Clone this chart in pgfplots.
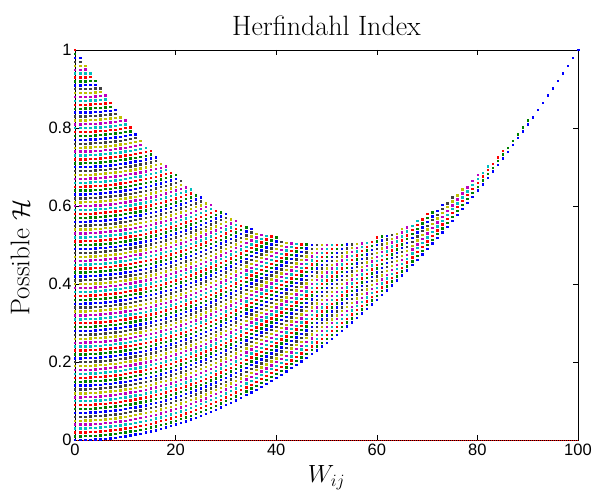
\documentclass[border=0pt]{standalone}
\usepackage{pgfplots}
\pgfplotsset{compat=1.18}
\usepackage{fontspec}
\newfontfamily\tickfont{Liberation Sans}

\definecolor{mB}{rgb}{0,0,1}
\definecolor{mG}{rgb}{0,0.5,0}
\definecolor{mR}{rgb}{1,0,0}
\definecolor{mC}{rgb}{0,0.75,0.75}
\definecolor{mM}{rgb}{0.75,0,0.75}
\definecolor{mY}{rgb}{0.75,0.75,0}
\definecolor{mK}{rgb}{0.25,0.25,0.25}

\pgfplotscreateplotcyclelist{lines7}{
 {mB,only marks,mark=square*,mark size=0.7pt,mark options={draw=none,fill=mB}},
 {mG,only marks,mark=square*,mark size=0.7pt,mark options={draw=none,fill=mG}},
 {mR,only marks,mark=square*,mark size=0.7pt,mark options={draw=none,fill=mR}},
 {mC,only marks,mark=square*,mark size=0.7pt,mark options={draw=none,fill=mC}},
 {mM,only marks,mark=square*,mark size=0.7pt,mark options={draw=none,fill=mM}},
 {mY,only marks,mark=square*,mark size=0.7pt,mark options={draw=none,fill=mY}},
 {mK,only marks,mark=square*,mark size=0.7pt,mark options={draw=none,fill=mK}}}

\begin{document}
\begin{tikzpicture}
\path[use as bounding box] (-75pt,-50pt) rectangle (517pt,440pt);
% H is stored in units of 1/10000; k-th series: W^2 + 100k, W = 0..100
\begin{axis}[
  at={(0,0)}, anchor=south west,
  scale only axis, width=503pt, height=390pt,
  xmin=0, xmax=100, ymin=0, ymax=10000,
  xtick={0,20,40,60,80,100},
  ytick={0,2000,4000,6000,8000,10000},
  yticklabels={0,0.2,0.4,0.6,0.8,1},
  scaled y ticks=false,
  tick align=inside, major tick length=5pt,
  tick style={black, line width=0.6pt},
  axis line style={black, line width=0.8pt},
  /pgf/number format/assume math mode=true,
  ticklabel style={font=\tickfont\fontsize{16.5}{19}\selectfont},
  title={Herfindahl Index},
  title style={font=\fontsize{28}{33}\selectfont, at={(axis description cs:0.5,1.022)}, anchor=base},
  xlabel={$W_{ij}$}, ylabel={Possible $\mathcal{H}$},
  xlabel style={font=\fontsize{25}{29}\selectfont, at={(axis description cs:0.5,-0.097)}, anchor=center},
  ylabel style={font=\fontsize{27}{31}\selectfont, at={(axis description cs:-0.109,0.468)}, anchor=center},
  clip=false,
  cycle list name=lines7,
]
\addplot coordinates {
(0,0)(1,1)(2,4)(3,9)(4,16)(5,25)(6,36)(7,49)(8,64)(9,81)
(10,100)(11,121)(12,144)(13,169)(14,196)(15,225)(16,256)(17,289)(18,324)(19,361)
(20,400)(21,441)(22,484)(23,529)(24,576)(25,625)(26,676)(27,729)(28,784)(29,841)
(30,900)(31,961)(32,1024)(33,1089)(34,1156)(35,1225)(36,1296)(37,1369)(38,1444)(39,1521)
(40,1600)(41,1681)(42,1764)(43,1849)(44,1936)(45,2025)(46,2116)(47,2209)(48,2304)(49,2401)
(50,2500)(51,2601)(52,2704)(53,2809)(54,2916)(55,3025)(56,3136)(57,3249)(58,3364)(59,3481)
(60,3600)(61,3721)(62,3844)(63,3969)(64,4096)(65,4225)(66,4356)(67,4489)(68,4624)(69,4761)
(70,4900)(71,5041)(72,5184)(73,5329)(74,5476)(75,5625)(76,5776)(77,5929)(78,6084)(79,6241)
(80,6400)(81,6561)(82,6724)(83,6889)(84,7056)(85,7225)(86,7396)(87,7569)(88,7744)(89,7921)
(90,8100)(91,8281)(92,8464)(93,8649)(94,8836)(95,9025)(96,9216)(97,9409)(98,9604)(99,9801)
(100,10000)};
\addplot coordinates {
(0,100)(1,101)(2,104)(3,109)(4,116)(5,125)(6,136)(7,149)(8,164)(9,181)
(10,200)(11,221)(12,244)(13,269)(14,296)(15,325)(16,356)(17,389)(18,424)(19,461)
(20,500)(21,541)(22,584)(23,629)(24,676)(25,725)(26,776)(27,829)(28,884)(29,941)
(30,1000)(31,1061)(32,1124)(33,1189)(34,1256)(35,1325)(36,1396)(37,1469)(38,1544)(39,1621)
(40,1700)(41,1781)(42,1864)(43,1949)(44,2036)(45,2125)(46,2216)(47,2309)(48,2404)(49,2501)
(50,2600)(51,2701)(52,2804)(53,2909)(54,3016)(55,3125)(56,3236)(57,3349)(58,3464)(59,3581)
(60,3700)(61,3821)(62,3944)(63,4069)(64,4196)(65,4325)(66,4456)(67,4589)(68,4724)(69,4861)
(70,5000)(71,5141)(72,5284)(73,5429)(74,5576)(75,5725)(76,5876)(77,6029)(78,6184)(79,6341)
(80,6500)(81,6661)(82,6824)(83,6989)(84,7156)(85,7325)(86,7496)(87,7669)(88,7844)(89,8021)
(90,8200)};
\addplot coordinates {
(0,200)(1,201)(2,204)(3,209)(4,216)(5,225)(6,236)(7,249)(8,264)(9,281)
(10,300)(11,321)(12,344)(13,369)(14,396)(15,425)(16,456)(17,489)(18,524)(19,561)
(20,600)(21,641)(22,684)(23,729)(24,776)(25,825)(26,876)(27,929)(28,984)(29,1041)
(30,1100)(31,1161)(32,1224)(33,1289)(34,1356)(35,1425)(36,1496)(37,1569)(38,1644)(39,1721)
(40,1800)(41,1881)(42,1964)(43,2049)(44,2136)(45,2225)(46,2316)(47,2409)(48,2504)(49,2601)
(50,2700)(51,2801)(52,2904)(53,3009)(54,3116)(55,3225)(56,3336)(57,3449)(58,3564)(59,3681)
(60,3800)(61,3921)(62,4044)(63,4169)(64,4296)(65,4425)(66,4556)(67,4689)(68,4824)(69,4961)
(70,5100)(71,5241)(72,5384)(73,5529)(74,5676)(75,5825)(76,5976)(77,6129)(78,6284)(79,6441)
(80,6600)(81,6761)(82,6924)(83,7089)(84,7256)(85,7425)};
\addplot coordinates {
(0,300)(1,301)(2,304)(3,309)(4,316)(5,325)(6,336)(7,349)(8,364)(9,381)
(10,400)(11,421)(12,444)(13,469)(14,496)(15,525)(16,556)(17,589)(18,624)(19,661)
(20,700)(21,741)(22,784)(23,829)(24,876)(25,925)(26,976)(27,1029)(28,1084)(29,1141)
(30,1200)(31,1261)(32,1324)(33,1389)(34,1456)(35,1525)(36,1596)(37,1669)(38,1744)(39,1821)
(40,1900)(41,1981)(42,2064)(43,2149)(44,2236)(45,2325)(46,2416)(47,2509)(48,2604)(49,2701)
(50,2800)(51,2901)(52,3004)(53,3109)(54,3216)(55,3325)(56,3436)(57,3549)(58,3664)(59,3781)
(60,3900)(61,4021)(62,4144)(63,4269)(64,4396)(65,4525)(66,4656)(67,4789)(68,4924)(69,5061)
(70,5200)(71,5341)(72,5484)(73,5629)(74,5776)(75,5925)(76,6076)(77,6229)(78,6384)(79,6541)
(80,6700)(81,6861)(82,7024)};
\addplot coordinates {
(0,400)(1,401)(2,404)(3,409)(4,416)(5,425)(6,436)(7,449)(8,464)(9,481)
(10,500)(11,521)(12,544)(13,569)(14,596)(15,625)(16,656)(17,689)(18,724)(19,761)
(20,800)(21,841)(22,884)(23,929)(24,976)(25,1025)(26,1076)(27,1129)(28,1184)(29,1241)
(30,1300)(31,1361)(32,1424)(33,1489)(34,1556)(35,1625)(36,1696)(37,1769)(38,1844)(39,1921)
(40,2000)(41,2081)(42,2164)(43,2249)(44,2336)(45,2425)(46,2516)(47,2609)(48,2704)(49,2801)
(50,2900)(51,3001)(52,3104)(53,3209)(54,3316)(55,3425)(56,3536)(57,3649)(58,3764)(59,3881)
(60,4000)(61,4121)(62,4244)(63,4369)(64,4496)(65,4625)(66,4756)(67,4889)(68,5024)(69,5161)
(70,5300)(71,5441)(72,5584)(73,5729)(74,5876)(75,6025)(76,6176)(77,6329)(78,6484)(79,6641)
(80,6800)};
\addplot coordinates {
(0,500)(1,501)(2,504)(3,509)(4,516)(5,525)(6,536)(7,549)(8,564)(9,581)
(10,600)(11,621)(12,644)(13,669)(14,696)(15,725)(16,756)(17,789)(18,824)(19,861)
(20,900)(21,941)(22,984)(23,1029)(24,1076)(25,1125)(26,1176)(27,1229)(28,1284)(29,1341)
(30,1400)(31,1461)(32,1524)(33,1589)(34,1656)(35,1725)(36,1796)(37,1869)(38,1944)(39,2021)
(40,2100)(41,2181)(42,2264)(43,2349)(44,2436)(45,2525)(46,2616)(47,2709)(48,2804)(49,2901)
(50,3000)(51,3101)(52,3204)(53,3309)(54,3416)(55,3525)(56,3636)(57,3749)(58,3864)(59,3981)
(60,4100)(61,4221)(62,4344)(63,4469)(64,4596)(65,4725)(66,4856)(67,4989)(68,5124)(69,5261)
(70,5400)(71,5541)(72,5684)(73,5829)(74,5976)(75,6125)(76,6276)(77,6429)};
\addplot coordinates {
(0,600)(1,601)(2,604)(3,609)(4,616)(5,625)(6,636)(7,649)(8,664)(9,681)
(10,700)(11,721)(12,744)(13,769)(14,796)(15,825)(16,856)(17,889)(18,924)(19,961)
(20,1000)(21,1041)(22,1084)(23,1129)(24,1176)(25,1225)(26,1276)(27,1329)(28,1384)(29,1441)
(30,1500)(31,1561)(32,1624)(33,1689)(34,1756)(35,1825)(36,1896)(37,1969)(38,2044)(39,2121)
(40,2200)(41,2281)(42,2364)(43,2449)(44,2536)(45,2625)(46,2716)(47,2809)(48,2904)(49,3001)
(50,3100)(51,3201)(52,3304)(53,3409)(54,3516)(55,3625)(56,3736)(57,3849)(58,3964)(59,4081)
(60,4200)(61,4321)(62,4444)(63,4569)(64,4696)(65,4825)(66,4956)(67,5089)(68,5224)(69,5361)
(70,5500)(71,5641)(72,5784)(73,5929)(74,6076)(75,6225)};
\addplot coordinates {
(0,700)(1,701)(2,704)(3,709)(4,716)(5,725)(6,736)(7,749)(8,764)(9,781)
(10,800)(11,821)(12,844)(13,869)(14,896)(15,925)(16,956)(17,989)(18,1024)(19,1061)
(20,1100)(21,1141)(22,1184)(23,1229)(24,1276)(25,1325)(26,1376)(27,1429)(28,1484)(29,1541)
(30,1600)(31,1661)(32,1724)(33,1789)(34,1856)(35,1925)(36,1996)(37,2069)(38,2144)(39,2221)
(40,2300)(41,2381)(42,2464)(43,2549)(44,2636)(45,2725)(46,2816)(47,2909)(48,3004)(49,3101)
(50,3200)(51,3301)(52,3404)(53,3509)(54,3616)(55,3725)(56,3836)(57,3949)(58,4064)(59,4181)
(60,4300)(61,4421)(62,4544)(63,4669)(64,4796)(65,4925)(66,5056)(67,5189)(68,5324)(69,5461)
(70,5600)(71,5741)(72,5884)(73,6029)};
\addplot coordinates {
(0,800)(1,801)(2,804)(3,809)(4,816)(5,825)(6,836)(7,849)(8,864)(9,881)
(10,900)(11,921)(12,944)(13,969)(14,996)(15,1025)(16,1056)(17,1089)(18,1124)(19,1161)
(20,1200)(21,1241)(22,1284)(23,1329)(24,1376)(25,1425)(26,1476)(27,1529)(28,1584)(29,1641)
(30,1700)(31,1761)(32,1824)(33,1889)(34,1956)(35,2025)(36,2096)(37,2169)(38,2244)(39,2321)
(40,2400)(41,2481)(42,2564)(43,2649)(44,2736)(45,2825)(46,2916)(47,3009)(48,3104)(49,3201)
(50,3300)(51,3401)(52,3504)(53,3609)(54,3716)(55,3825)(56,3936)(57,4049)(58,4164)(59,4281)
(60,4400)(61,4521)(62,4644)(63,4769)(64,4896)(65,5025)(66,5156)(67,5289)(68,5424)(69,5561)
(70,5700)(71,5841)};
\addplot coordinates {
(0,900)(1,901)(2,904)(3,909)(4,916)(5,925)(6,936)(7,949)(8,964)(9,981)
(10,1000)(11,1021)(12,1044)(13,1069)(14,1096)(15,1125)(16,1156)(17,1189)(18,1224)(19,1261)
(20,1300)(21,1341)(22,1384)(23,1429)(24,1476)(25,1525)(26,1576)(27,1629)(28,1684)(29,1741)
(30,1800)(31,1861)(32,1924)(33,1989)(34,2056)(35,2125)(36,2196)(37,2269)(38,2344)(39,2421)
(40,2500)(41,2581)(42,2664)(43,2749)(44,2836)(45,2925)(46,3016)(47,3109)(48,3204)(49,3301)
(50,3400)(51,3501)(52,3604)(53,3709)(54,3816)(55,3925)(56,4036)(57,4149)(58,4264)(59,4381)
(60,4500)(61,4621)(62,4744)(63,4869)(64,4996)(65,5125)(66,5256)(67,5389)(68,5524)(69,5661)
(70,5800)};
\addplot coordinates {
(0,1000)(1,1001)(2,1004)(3,1009)(4,1016)(5,1025)(6,1036)(7,1049)(8,1064)(9,1081)
(10,1100)(11,1121)(12,1144)(13,1169)(14,1196)(15,1225)(16,1256)(17,1289)(18,1324)(19,1361)
(20,1400)(21,1441)(22,1484)(23,1529)(24,1576)(25,1625)(26,1676)(27,1729)(28,1784)(29,1841)
(30,1900)(31,1961)(32,2024)(33,2089)(34,2156)(35,2225)(36,2296)(37,2369)(38,2444)(39,2521)
(40,2600)(41,2681)(42,2764)(43,2849)(44,2936)(45,3025)(46,3116)(47,3209)(48,3304)(49,3401)
(50,3500)(51,3601)(52,3704)(53,3809)(54,3916)(55,4025)(56,4136)(57,4249)(58,4364)(59,4481)
(60,4600)(61,4721)(62,4844)(63,4969)(64,5096)(65,5225)(66,5356)(67,5489)(68,5624)};
\addplot coordinates {
(0,1100)(1,1101)(2,1104)(3,1109)(4,1116)(5,1125)(6,1136)(7,1149)(8,1164)(9,1181)
(10,1200)(11,1221)(12,1244)(13,1269)(14,1296)(15,1325)(16,1356)(17,1389)(18,1424)(19,1461)
(20,1500)(21,1541)(22,1584)(23,1629)(24,1676)(25,1725)(26,1776)(27,1829)(28,1884)(29,1941)
(30,2000)(31,2061)(32,2124)(33,2189)(34,2256)(35,2325)(36,2396)(37,2469)(38,2544)(39,2621)
(40,2700)(41,2781)(42,2864)(43,2949)(44,3036)(45,3125)(46,3216)(47,3309)(48,3404)(49,3501)
(50,3600)(51,3701)(52,3804)(53,3909)(54,4016)(55,4125)(56,4236)(57,4349)(58,4464)(59,4581)
(60,4700)(61,4821)(62,4944)(63,5069)(64,5196)(65,5325)(66,5456)};
\addplot coordinates {
(0,1200)(1,1201)(2,1204)(3,1209)(4,1216)(5,1225)(6,1236)(7,1249)(8,1264)(9,1281)
(10,1300)(11,1321)(12,1344)(13,1369)(14,1396)(15,1425)(16,1456)(17,1489)(18,1524)(19,1561)
(20,1600)(21,1641)(22,1684)(23,1729)(24,1776)(25,1825)(26,1876)(27,1929)(28,1984)(29,2041)
(30,2100)(31,2161)(32,2224)(33,2289)(34,2356)(35,2425)(36,2496)(37,2569)(38,2644)(39,2721)
(40,2800)(41,2881)(42,2964)(43,3049)(44,3136)(45,3225)(46,3316)(47,3409)(48,3504)(49,3601)
(50,3700)(51,3801)(52,3904)(53,4009)(54,4116)(55,4225)(56,4336)(57,4449)(58,4564)(59,4681)
(60,4800)(61,4921)(62,5044)(63,5169)(64,5296)(65,5425)};
\addplot coordinates {
(0,1300)(1,1301)(2,1304)(3,1309)(4,1316)(5,1325)(6,1336)(7,1349)(8,1364)(9,1381)
(10,1400)(11,1421)(12,1444)(13,1469)(14,1496)(15,1525)(16,1556)(17,1589)(18,1624)(19,1661)
(20,1700)(21,1741)(22,1784)(23,1829)(24,1876)(25,1925)(26,1976)(27,2029)(28,2084)(29,2141)
(30,2200)(31,2261)(32,2324)(33,2389)(34,2456)(35,2525)(36,2596)(37,2669)(38,2744)(39,2821)
(40,2900)(41,2981)(42,3064)(43,3149)(44,3236)(45,3325)(46,3416)(47,3509)(48,3604)(49,3701)
(50,3800)(51,3901)(52,4004)(53,4109)(54,4216)(55,4325)(56,4436)(57,4549)(58,4664)(59,4781)
(60,4900)(61,5021)(62,5144)(63,5269)};
\addplot coordinates {
(0,1400)(1,1401)(2,1404)(3,1409)(4,1416)(5,1425)(6,1436)(7,1449)(8,1464)(9,1481)
(10,1500)(11,1521)(12,1544)(13,1569)(14,1596)(15,1625)(16,1656)(17,1689)(18,1724)(19,1761)
(20,1800)(21,1841)(22,1884)(23,1929)(24,1976)(25,2025)(26,2076)(27,2129)(28,2184)(29,2241)
(30,2300)(31,2361)(32,2424)(33,2489)(34,2556)(35,2625)(36,2696)(37,2769)(38,2844)(39,2921)
(40,3000)(41,3081)(42,3164)(43,3249)(44,3336)(45,3425)(46,3516)(47,3609)(48,3704)(49,3801)
(50,3900)(51,4001)(52,4104)(53,4209)(54,4316)(55,4425)(56,4536)(57,4649)(58,4764)(59,4881)
(60,5000)(61,5121)(62,5244)};
\addplot coordinates {
(0,1500)(1,1501)(2,1504)(3,1509)(4,1516)(5,1525)(6,1536)(7,1549)(8,1564)(9,1581)
(10,1600)(11,1621)(12,1644)(13,1669)(14,1696)(15,1725)(16,1756)(17,1789)(18,1824)(19,1861)
(20,1900)(21,1941)(22,1984)(23,2029)(24,2076)(25,2125)(26,2176)(27,2229)(28,2284)(29,2341)
(30,2400)(31,2461)(32,2524)(33,2589)(34,2656)(35,2725)(36,2796)(37,2869)(38,2944)(39,3021)
(40,3100)(41,3181)(42,3264)(43,3349)(44,3436)(45,3525)(46,3616)(47,3709)(48,3804)(49,3901)
(50,4000)(51,4101)(52,4204)(53,4309)(54,4416)(55,4525)(56,4636)(57,4749)(58,4864)(59,4981)
(60,5100)(61,5221)};
\addplot coordinates {
(0,1600)(1,1601)(2,1604)(3,1609)(4,1616)(5,1625)(6,1636)(7,1649)(8,1664)(9,1681)
(10,1700)(11,1721)(12,1744)(13,1769)(14,1796)(15,1825)(16,1856)(17,1889)(18,1924)(19,1961)
(20,2000)(21,2041)(22,2084)(23,2129)(24,2176)(25,2225)(26,2276)(27,2329)(28,2384)(29,2441)
(30,2500)(31,2561)(32,2624)(33,2689)(34,2756)(35,2825)(36,2896)(37,2969)(38,3044)(39,3121)
(40,3200)(41,3281)(42,3364)(43,3449)(44,3536)(45,3625)(46,3716)(47,3809)(48,3904)(49,4001)
(50,4100)(51,4201)(52,4304)(53,4409)(54,4516)(55,4625)(56,4736)(57,4849)(58,4964)(59,5081)
(60,5200)};
\addplot coordinates {
(0,1700)(1,1701)(2,1704)(3,1709)(4,1716)(5,1725)(6,1736)(7,1749)(8,1764)(9,1781)
(10,1800)(11,1821)(12,1844)(13,1869)(14,1896)(15,1925)(16,1956)(17,1989)(18,2024)(19,2061)
(20,2100)(21,2141)(22,2184)(23,2229)(24,2276)(25,2325)(26,2376)(27,2429)(28,2484)(29,2541)
(30,2600)(31,2661)(32,2724)(33,2789)(34,2856)(35,2925)(36,2996)(37,3069)(38,3144)(39,3221)
(40,3300)(41,3381)(42,3464)(43,3549)(44,3636)(45,3725)(46,3816)(47,3909)(48,4004)(49,4101)
(50,4200)(51,4301)(52,4404)(53,4509)(54,4616)(55,4725)(56,4836)(57,4949)(58,5064)};
\addplot coordinates {
(0,1800)(1,1801)(2,1804)(3,1809)(4,1816)(5,1825)(6,1836)(7,1849)(8,1864)(9,1881)
(10,1900)(11,1921)(12,1944)(13,1969)(14,1996)(15,2025)(16,2056)(17,2089)(18,2124)(19,2161)
(20,2200)(21,2241)(22,2284)(23,2329)(24,2376)(25,2425)(26,2476)(27,2529)(28,2584)(29,2641)
(30,2700)(31,2761)(32,2824)(33,2889)(34,2956)(35,3025)(36,3096)(37,3169)(38,3244)(39,3321)
(40,3400)(41,3481)(42,3564)(43,3649)(44,3736)(45,3825)(46,3916)(47,4009)(48,4104)(49,4201)
(50,4300)(51,4401)(52,4504)(53,4609)(54,4716)(55,4825)(56,4936)(57,5049)};
\addplot coordinates {
(0,1900)(1,1901)(2,1904)(3,1909)(4,1916)(5,1925)(6,1936)(7,1949)(8,1964)(9,1981)
(10,2000)(11,2021)(12,2044)(13,2069)(14,2096)(15,2125)(16,2156)(17,2189)(18,2224)(19,2261)
(20,2300)(21,2341)(22,2384)(23,2429)(24,2476)(25,2525)(26,2576)(27,2629)(28,2684)(29,2741)
(30,2800)(31,2861)(32,2924)(33,2989)(34,3056)(35,3125)(36,3196)(37,3269)(38,3344)(39,3421)
(40,3500)(41,3581)(42,3664)(43,3749)(44,3836)(45,3925)(46,4016)(47,4109)(48,4204)(49,4301)
(50,4400)(51,4501)(52,4604)(53,4709)(54,4816)(55,4925)(56,5036)};
\addplot coordinates {
(0,2000)(1,2001)(2,2004)(3,2009)(4,2016)(5,2025)(6,2036)(7,2049)(8,2064)(9,2081)
(10,2100)(11,2121)(12,2144)(13,2169)(14,2196)(15,2225)(16,2256)(17,2289)(18,2324)(19,2361)
(20,2400)(21,2441)(22,2484)(23,2529)(24,2576)(25,2625)(26,2676)(27,2729)(28,2784)(29,2841)
(30,2900)(31,2961)(32,3024)(33,3089)(34,3156)(35,3225)(36,3296)(37,3369)(38,3444)(39,3521)
(40,3600)(41,3681)(42,3764)(43,3849)(44,3936)(45,4025)(46,4116)(47,4209)(48,4304)(49,4401)
(50,4500)(51,4601)(52,4704)(53,4809)(54,4916)(55,5025)};
\addplot coordinates {
(0,2100)(1,2101)(2,2104)(3,2109)(4,2116)(5,2125)(6,2136)(7,2149)(8,2164)(9,2181)
(10,2200)(11,2221)(12,2244)(13,2269)(14,2296)(15,2325)(16,2356)(17,2389)(18,2424)(19,2461)
(20,2500)(21,2541)(22,2584)(23,2629)(24,2676)(25,2725)(26,2776)(27,2829)(28,2884)(29,2941)
(30,3000)(31,3061)(32,3124)(33,3189)(34,3256)(35,3325)(36,3396)(37,3469)(38,3544)(39,3621)
(40,3700)(41,3781)(42,3864)(43,3949)(44,4036)(45,4125)(46,4216)(47,4309)(48,4404)(49,4501)
(50,4600)(51,4701)(52,4804)(53,4909)(54,5016)};
\addplot coordinates {
(0,2200)(1,2201)(2,2204)(3,2209)(4,2216)(5,2225)(6,2236)(7,2249)(8,2264)(9,2281)
(10,2300)(11,2321)(12,2344)(13,2369)(14,2396)(15,2425)(16,2456)(17,2489)(18,2524)(19,2561)
(20,2600)(21,2641)(22,2684)(23,2729)(24,2776)(25,2825)(26,2876)(27,2929)(28,2984)(29,3041)
(30,3100)(31,3161)(32,3224)(33,3289)(34,3356)(35,3425)(36,3496)(37,3569)(38,3644)(39,3721)
(40,3800)(41,3881)(42,3964)(43,4049)(44,4136)(45,4225)(46,4316)(47,4409)(48,4504)(49,4601)
(50,4700)(51,4801)(52,4904)(53,5009)};
\addplot coordinates {
(0,2300)(1,2301)(2,2304)(3,2309)(4,2316)(5,2325)(6,2336)(7,2349)(8,2364)(9,2381)
(10,2400)(11,2421)(12,2444)(13,2469)(14,2496)(15,2525)(16,2556)(17,2589)(18,2624)(19,2661)
(20,2700)(21,2741)(22,2784)(23,2829)(24,2876)(25,2925)(26,2976)(27,3029)(28,3084)(29,3141)
(30,3200)(31,3261)(32,3324)(33,3389)(34,3456)(35,3525)(36,3596)(37,3669)(38,3744)(39,3821)
(40,3900)(41,3981)(42,4064)(43,4149)(44,4236)(45,4325)(46,4416)(47,4509)(48,4604)(49,4701)
(50,4800)(51,4901)(52,5004)};
\addplot coordinates {
(0,2400)(1,2401)(2,2404)(3,2409)(4,2416)(5,2425)(6,2436)(7,2449)(8,2464)(9,2481)
(10,2500)(11,2521)(12,2544)(13,2569)(14,2596)(15,2625)(16,2656)(17,2689)(18,2724)(19,2761)
(20,2800)(21,2841)(22,2884)(23,2929)(24,2976)(25,3025)(26,3076)(27,3129)(28,3184)(29,3241)
(30,3300)(31,3361)(32,3424)(33,3489)(34,3556)(35,3625)(36,3696)(37,3769)(38,3844)(39,3921)
(40,4000)(41,4081)(42,4164)(43,4249)(44,4336)(45,4425)(46,4516)(47,4609)(48,4704)(49,4801)
(50,4900)(51,5001)};
\addplot coordinates {
(0,2500)(1,2501)(2,2504)(3,2509)(4,2516)(5,2525)(6,2536)(7,2549)(8,2564)(9,2581)
(10,2600)(11,2621)(12,2644)(13,2669)(14,2696)(15,2725)(16,2756)(17,2789)(18,2824)(19,2861)
(20,2900)(21,2941)(22,2984)(23,3029)(24,3076)(25,3125)(26,3176)(27,3229)(28,3284)(29,3341)
(30,3400)(31,3461)(32,3524)(33,3589)(34,3656)(35,3725)(36,3796)(37,3869)(38,3944)(39,4021)
(40,4100)(41,4181)(42,4264)(43,4349)(44,4436)(45,4525)(46,4616)(47,4709)(48,4804)(49,4901)
(50,5000)};
\addplot coordinates {
(0,2600)(1,2601)(2,2604)(3,2609)(4,2616)(5,2625)(6,2636)(7,2649)(8,2664)(9,2681)
(10,2700)(11,2721)(12,2744)(13,2769)(14,2796)(15,2825)(16,2856)(17,2889)(18,2924)(19,2961)
(20,3000)(21,3041)(22,3084)(23,3129)(24,3176)(25,3225)(26,3276)(27,3329)(28,3384)(29,3441)
(30,3500)(31,3561)(32,3624)(33,3689)(34,3756)(35,3825)(36,3896)(37,3969)(38,4044)(39,4121)
(40,4200)(41,4281)(42,4364)(43,4449)(44,4536)(45,4625)(46,4716)(47,4809)(48,4904)(49,5001)};
\addplot coordinates {
(0,2700)(1,2701)(2,2704)(3,2709)(4,2716)(5,2725)(6,2736)(7,2749)(8,2764)(9,2781)
(10,2800)(11,2821)(12,2844)(13,2869)(14,2896)(15,2925)(16,2956)(17,2989)(18,3024)(19,3061)
(20,3100)(21,3141)(22,3184)(23,3229)(24,3276)(25,3325)(26,3376)(27,3429)(28,3484)(29,3541)
(30,3600)(31,3661)(32,3724)(33,3789)(34,3856)(35,3925)(36,3996)(37,4069)(38,4144)(39,4221)
(40,4300)(41,4381)(42,4464)(43,4549)(44,4636)(45,4725)(46,4816)(47,4909)(48,5004)};
\addplot coordinates {
(0,2800)(1,2801)(2,2804)(3,2809)(4,2816)(5,2825)(6,2836)(7,2849)(8,2864)(9,2881)
(10,2900)(11,2921)(12,2944)(13,2969)(14,2996)(15,3025)(16,3056)(17,3089)(18,3124)(19,3161)
(20,3200)(21,3241)(22,3284)(23,3329)(24,3376)(25,3425)(26,3476)(27,3529)(28,3584)(29,3641)
(30,3700)(31,3761)(32,3824)(33,3889)(34,3956)(35,4025)(36,4096)(37,4169)(38,4244)(39,4321)
(40,4400)(41,4481)(42,4564)(43,4649)(44,4736)(45,4825)(46,4916)(47,5009)};
\addplot coordinates {
(0,2900)(1,2901)(2,2904)(3,2909)(4,2916)(5,2925)(6,2936)(7,2949)(8,2964)(9,2981)
(10,3000)(11,3021)(12,3044)(13,3069)(14,3096)(15,3125)(16,3156)(17,3189)(18,3224)(19,3261)
(20,3300)(21,3341)(22,3384)(23,3429)(24,3476)(25,3525)(26,3576)(27,3629)(28,3684)(29,3741)
(30,3800)(31,3861)(32,3924)(33,3989)(34,4056)(35,4125)(36,4196)(37,4269)(38,4344)(39,4421)
(40,4500)(41,4581)(42,4664)(43,4749)(44,4836)(45,4925)(46,5016)};
\addplot coordinates {
(0,3000)(1,3001)(2,3004)(3,3009)(4,3016)(5,3025)(6,3036)(7,3049)(8,3064)(9,3081)
(10,3100)(11,3121)(12,3144)(13,3169)(14,3196)(15,3225)(16,3256)(17,3289)(18,3324)(19,3361)
(20,3400)(21,3441)(22,3484)(23,3529)(24,3576)(25,3625)(26,3676)(27,3729)(28,3784)(29,3841)
(30,3900)(31,3961)(32,4024)(33,4089)(34,4156)(35,4225)(36,4296)(37,4369)(38,4444)(39,4521)
(40,4600)(41,4681)(42,4764)(43,4849)(44,4936)(45,5025)};
\addplot coordinates {
(0,3100)(1,3101)(2,3104)(3,3109)(4,3116)(5,3125)(6,3136)(7,3149)(8,3164)(9,3181)
(10,3200)(11,3221)(12,3244)(13,3269)(14,3296)(15,3325)(16,3356)(17,3389)(18,3424)(19,3461)
(20,3500)(21,3541)(22,3584)(23,3629)(24,3676)(25,3725)(26,3776)(27,3829)(28,3884)(29,3941)
(30,4000)(31,4061)(32,4124)(33,4189)(34,4256)(35,4325)(36,4396)(37,4469)(38,4544)(39,4621)
(40,4700)(41,4781)(42,4864)(43,4949)(44,5036)};
\addplot coordinates {
(0,3200)(1,3201)(2,3204)(3,3209)(4,3216)(5,3225)(6,3236)(7,3249)(8,3264)(9,3281)
(10,3300)(11,3321)(12,3344)(13,3369)(14,3396)(15,3425)(16,3456)(17,3489)(18,3524)(19,3561)
(20,3600)(21,3641)(22,3684)(23,3729)(24,3776)(25,3825)(26,3876)(27,3929)(28,3984)(29,4041)
(30,4100)(31,4161)(32,4224)(33,4289)(34,4356)(35,4425)(36,4496)(37,4569)(38,4644)(39,4721)
(40,4800)(41,4881)(42,4964)(43,5049)};
\addplot coordinates {
(0,3300)(1,3301)(2,3304)(3,3309)(4,3316)(5,3325)(6,3336)(7,3349)(8,3364)(9,3381)
(10,3400)(11,3421)(12,3444)(13,3469)(14,3496)(15,3525)(16,3556)(17,3589)(18,3624)(19,3661)
(20,3700)(21,3741)(22,3784)(23,3829)(24,3876)(25,3925)(26,3976)(27,4029)(28,4084)(29,4141)
(30,4200)(31,4261)(32,4324)(33,4389)(34,4456)(35,4525)(36,4596)(37,4669)(38,4744)(39,4821)
(40,4900)(41,4981)(42,5064)};
\addplot coordinates {
(0,3400)(1,3401)(2,3404)(3,3409)(4,3416)(5,3425)(6,3436)(7,3449)(8,3464)(9,3481)
(10,3500)(11,3521)(12,3544)(13,3569)(14,3596)(15,3625)(16,3656)(17,3689)(18,3724)(19,3761)
(20,3800)(21,3841)(22,3884)(23,3929)(24,3976)(25,4025)(26,4076)(27,4129)(28,4184)(29,4241)
(30,4300)(31,4361)(32,4424)(33,4489)(34,4556)(35,4625)(36,4696)(37,4769)(38,4844)(39,4921)
(40,5000)(41,5081)};
\addplot coordinates {
(0,3500)(1,3501)(2,3504)(3,3509)(4,3516)(5,3525)(6,3536)(7,3549)(8,3564)(9,3581)
(10,3600)(11,3621)(12,3644)(13,3669)(14,3696)(15,3725)(16,3756)(17,3789)(18,3824)(19,3861)
(20,3900)(21,3941)(22,3984)(23,4029)(24,4076)(25,4125)(26,4176)(27,4229)(28,4284)(29,4341)
(30,4400)(31,4461)(32,4524)(33,4589)(34,4656)(35,4725)(36,4796)(37,4869)(38,4944)(39,5021)
(40,5100)};
\addplot coordinates {
(0,3600)(1,3601)(2,3604)(3,3609)(4,3616)(5,3625)(6,3636)(7,3649)(8,3664)(9,3681)
(10,3700)(11,3721)(12,3744)(13,3769)(14,3796)(15,3825)(16,3856)(17,3889)(18,3924)(19,3961)
(20,4000)(21,4041)(22,4084)(23,4129)(24,4176)(25,4225)(26,4276)(27,4329)(28,4384)(29,4441)
(30,4500)(31,4561)(32,4624)(33,4689)(34,4756)(35,4825)(36,4896)(37,4969)(38,5044)(39,5121)
(40,5200)};
\addplot coordinates {
(0,3700)(1,3701)(2,3704)(3,3709)(4,3716)(5,3725)(6,3736)(7,3749)(8,3764)(9,3781)
(10,3800)(11,3821)(12,3844)(13,3869)(14,3896)(15,3925)(16,3956)(17,3989)(18,4024)(19,4061)
(20,4100)(21,4141)(22,4184)(23,4229)(24,4276)(25,4325)(26,4376)(27,4429)(28,4484)(29,4541)
(30,4600)(31,4661)(32,4724)(33,4789)(34,4856)(35,4925)(36,4996)(37,5069)(38,5144)(39,5221)};
\addplot coordinates {
(0,3800)(1,3801)(2,3804)(3,3809)(4,3816)(5,3825)(6,3836)(7,3849)(8,3864)(9,3881)
(10,3900)(11,3921)(12,3944)(13,3969)(14,3996)(15,4025)(16,4056)(17,4089)(18,4124)(19,4161)
(20,4200)(21,4241)(22,4284)(23,4329)(24,4376)(25,4425)(26,4476)(27,4529)(28,4584)(29,4641)
(30,4700)(31,4761)(32,4824)(33,4889)(34,4956)(35,5025)(36,5096)(37,5169)(38,5244)};
\addplot coordinates {
(0,3900)(1,3901)(2,3904)(3,3909)(4,3916)(5,3925)(6,3936)(7,3949)(8,3964)(9,3981)
(10,4000)(11,4021)(12,4044)(13,4069)(14,4096)(15,4125)(16,4156)(17,4189)(18,4224)(19,4261)
(20,4300)(21,4341)(22,4384)(23,4429)(24,4476)(25,4525)(26,4576)(27,4629)(28,4684)(29,4741)
(30,4800)(31,4861)(32,4924)(33,4989)(34,5056)(35,5125)(36,5196)(37,5269)};
\addplot coordinates {
(0,4000)(1,4001)(2,4004)(3,4009)(4,4016)(5,4025)(6,4036)(7,4049)(8,4064)(9,4081)
(10,4100)(11,4121)(12,4144)(13,4169)(14,4196)(15,4225)(16,4256)(17,4289)(18,4324)(19,4361)
(20,4400)(21,4441)(22,4484)(23,4529)(24,4576)(25,4625)(26,4676)(27,4729)(28,4784)(29,4841)
(30,4900)(31,4961)(32,5024)(33,5089)(34,5156)(35,5225)(36,5296)};
\addplot coordinates {
(0,4100)(1,4101)(2,4104)(3,4109)(4,4116)(5,4125)(6,4136)(7,4149)(8,4164)(9,4181)
(10,4200)(11,4221)(12,4244)(13,4269)(14,4296)(15,4325)(16,4356)(17,4389)(18,4424)(19,4461)
(20,4500)(21,4541)(22,4584)(23,4629)(24,4676)(25,4725)(26,4776)(27,4829)(28,4884)(29,4941)
(30,5000)(31,5061)(32,5124)(33,5189)(34,5256)(35,5325)};
\addplot coordinates {
(0,4200)(1,4201)(2,4204)(3,4209)(4,4216)(5,4225)(6,4236)(7,4249)(8,4264)(9,4281)
(10,4300)(11,4321)(12,4344)(13,4369)(14,4396)(15,4425)(16,4456)(17,4489)(18,4524)(19,4561)
(20,4600)(21,4641)(22,4684)(23,4729)(24,4776)(25,4825)(26,4876)(27,4929)(28,4984)(29,5041)
(30,5100)(31,5161)(32,5224)(33,5289)(34,5356)(35,5425)};
\addplot coordinates {
(0,4300)(1,4301)(2,4304)(3,4309)(4,4316)(5,4325)(6,4336)(7,4349)(8,4364)(9,4381)
(10,4400)(11,4421)(12,4444)(13,4469)(14,4496)(15,4525)(16,4556)(17,4589)(18,4624)(19,4661)
(20,4700)(21,4741)(22,4784)(23,4829)(24,4876)(25,4925)(26,4976)(27,5029)(28,5084)(29,5141)
(30,5200)(31,5261)(32,5324)(33,5389)(34,5456)};
\addplot coordinates {
(0,4400)(1,4401)(2,4404)(3,4409)(4,4416)(5,4425)(6,4436)(7,4449)(8,4464)(9,4481)
(10,4500)(11,4521)(12,4544)(13,4569)(14,4596)(15,4625)(16,4656)(17,4689)(18,4724)(19,4761)
(20,4800)(21,4841)(22,4884)(23,4929)(24,4976)(25,5025)(26,5076)(27,5129)(28,5184)(29,5241)
(30,5300)(31,5361)(32,5424)(33,5489)};
\addplot coordinates {
(0,4500)(1,4501)(2,4504)(3,4509)(4,4516)(5,4525)(6,4536)(7,4549)(8,4564)(9,4581)
(10,4600)(11,4621)(12,4644)(13,4669)(14,4696)(15,4725)(16,4756)(17,4789)(18,4824)(19,4861)
(20,4900)(21,4941)(22,4984)(23,5029)(24,5076)(25,5125)(26,5176)(27,5229)(28,5284)(29,5341)
(30,5400)(31,5461)(32,5524)};
\addplot coordinates {
(0,4600)(1,4601)(2,4604)(3,4609)(4,4616)(5,4625)(6,4636)(7,4649)(8,4664)(9,4681)
(10,4700)(11,4721)(12,4744)(13,4769)(14,4796)(15,4825)(16,4856)(17,4889)(18,4924)(19,4961)
(20,5000)(21,5041)(22,5084)(23,5129)(24,5176)(25,5225)(26,5276)(27,5329)(28,5384)(29,5441)
(30,5500)(31,5561)(32,5624)};
\addplot coordinates {
(0,4700)(1,4701)(2,4704)(3,4709)(4,4716)(5,4725)(6,4736)(7,4749)(8,4764)(9,4781)
(10,4800)(11,4821)(12,4844)(13,4869)(14,4896)(15,4925)(16,4956)(17,4989)(18,5024)(19,5061)
(20,5100)(21,5141)(22,5184)(23,5229)(24,5276)(25,5325)(26,5376)(27,5429)(28,5484)(29,5541)
(30,5600)(31,5661)};
\addplot coordinates {
(0,4800)(1,4801)(2,4804)(3,4809)(4,4816)(5,4825)(6,4836)(7,4849)(8,4864)(9,4881)
(10,4900)(11,4921)(12,4944)(13,4969)(14,4996)(15,5025)(16,5056)(17,5089)(18,5124)(19,5161)
(20,5200)(21,5241)(22,5284)(23,5329)(24,5376)(25,5425)(26,5476)(27,5529)(28,5584)(29,5641)
(30,5700)};
\addplot coordinates {
(0,4900)(1,4901)(2,4904)(3,4909)(4,4916)(5,4925)(6,4936)(7,4949)(8,4964)(9,4981)
(10,5000)(11,5021)(12,5044)(13,5069)(14,5096)(15,5125)(16,5156)(17,5189)(18,5224)(19,5261)
(20,5300)(21,5341)(22,5384)(23,5429)(24,5476)(25,5525)(26,5576)(27,5629)(28,5684)(29,5741)
(30,5800)};
\addplot coordinates {
(0,5000)(1,5001)(2,5004)(3,5009)(4,5016)(5,5025)(6,5036)(7,5049)(8,5064)(9,5081)
(10,5100)(11,5121)(12,5144)(13,5169)(14,5196)(15,5225)(16,5256)(17,5289)(18,5324)(19,5361)
(20,5400)(21,5441)(22,5484)(23,5529)(24,5576)(25,5625)(26,5676)(27,5729)(28,5784)(29,5841)};
\addplot coordinates {
(0,5100)(1,5101)(2,5104)(3,5109)(4,5116)(5,5125)(6,5136)(7,5149)(8,5164)(9,5181)
(10,5200)(11,5221)(12,5244)(13,5269)(14,5296)(15,5325)(16,5356)(17,5389)(18,5424)(19,5461)
(20,5500)(21,5541)(22,5584)(23,5629)(24,5676)(25,5725)(26,5776)(27,5829)(28,5884)};
\addplot coordinates {
(0,5200)(1,5201)(2,5204)(3,5209)(4,5216)(5,5225)(6,5236)(7,5249)(8,5264)(9,5281)
(10,5300)(11,5321)(12,5344)(13,5369)(14,5396)(15,5425)(16,5456)(17,5489)(18,5524)(19,5561)
(20,5600)(21,5641)(22,5684)(23,5729)(24,5776)(25,5825)(26,5876)(27,5929)};
\addplot coordinates {
(0,5300)(1,5301)(2,5304)(3,5309)(4,5316)(5,5325)(6,5336)(7,5349)(8,5364)(9,5381)
(10,5400)(11,5421)(12,5444)(13,5469)(14,5496)(15,5525)(16,5556)(17,5589)(18,5624)(19,5661)
(20,5700)(21,5741)(22,5784)(23,5829)(24,5876)(25,5925)(26,5976)(27,6029)};
\addplot coordinates {
(0,5400)(1,5401)(2,5404)(3,5409)(4,5416)(5,5425)(6,5436)(7,5449)(8,5464)(9,5481)
(10,5500)(11,5521)(12,5544)(13,5569)(14,5596)(15,5625)(16,5656)(17,5689)(18,5724)(19,5761)
(20,5800)(21,5841)(22,5884)(23,5929)(24,5976)(25,6025)(26,6076)};
\addplot coordinates {
(0,5500)(1,5501)(2,5504)(3,5509)(4,5516)(5,5525)(6,5536)(7,5549)(8,5564)(9,5581)
(10,5600)(11,5621)(12,5644)(13,5669)(14,5696)(15,5725)(16,5756)(17,5789)(18,5824)(19,5861)
(20,5900)(21,5941)(22,5984)(23,6029)(24,6076)(25,6125)};
\addplot coordinates {
(0,5600)(1,5601)(2,5604)(3,5609)(4,5616)(5,5625)(6,5636)(7,5649)(8,5664)(9,5681)
(10,5700)(11,5721)(12,5744)(13,5769)(14,5796)(15,5825)(16,5856)(17,5889)(18,5924)(19,5961)
(20,6000)(21,6041)(22,6084)(23,6129)(24,6176)(25,6225)};
\addplot coordinates {
(0,5700)(1,5701)(2,5704)(3,5709)(4,5716)(5,5725)(6,5736)(7,5749)(8,5764)(9,5781)
(10,5800)(11,5821)(12,5844)(13,5869)(14,5896)(15,5925)(16,5956)(17,5989)(18,6024)(19,6061)
(20,6100)(21,6141)(22,6184)(23,6229)(24,6276)};
\addplot coordinates {
(0,5800)(1,5801)(2,5804)(3,5809)(4,5816)(5,5825)(6,5836)(7,5849)(8,5864)(9,5881)
(10,5900)(11,5921)(12,5944)(13,5969)(14,5996)(15,6025)(16,6056)(17,6089)(18,6124)(19,6161)
(20,6200)(21,6241)(22,6284)(23,6329)};
\addplot coordinates {
(0,5900)(1,5901)(2,5904)(3,5909)(4,5916)(5,5925)(6,5936)(7,5949)(8,5964)(9,5981)
(10,6000)(11,6021)(12,6044)(13,6069)(14,6096)(15,6125)(16,6156)(17,6189)(18,6224)(19,6261)
(20,6300)(21,6341)(22,6384)(23,6429)};
\addplot coordinates {
(0,6000)(1,6001)(2,6004)(3,6009)(4,6016)(5,6025)(6,6036)(7,6049)(8,6064)(9,6081)
(10,6100)(11,6121)(12,6144)(13,6169)(14,6196)(15,6225)(16,6256)(17,6289)(18,6324)(19,6361)
(20,6400)(21,6441)(22,6484)};
\addplot coordinates {
(0,6100)(1,6101)(2,6104)(3,6109)(4,6116)(5,6125)(6,6136)(7,6149)(8,6164)(9,6181)
(10,6200)(11,6221)(12,6244)(13,6269)(14,6296)(15,6325)(16,6356)(17,6389)(18,6424)(19,6461)
(20,6500)(21,6541)};
\addplot coordinates {
(0,6200)(1,6201)(2,6204)(3,6209)(4,6216)(5,6225)(6,6236)(7,6249)(8,6264)(9,6281)
(10,6300)(11,6321)(12,6344)(13,6369)(14,6396)(15,6425)(16,6456)(17,6489)(18,6524)(19,6561)
(20,6600)(21,6641)};
\addplot coordinates {
(0,6300)(1,6301)(2,6304)(3,6309)(4,6316)(5,6325)(6,6336)(7,6349)(8,6364)(9,6381)
(10,6400)(11,6421)(12,6444)(13,6469)(14,6496)(15,6525)(16,6556)(17,6589)(18,6624)(19,6661)
(20,6700)};
\addplot coordinates {
(0,6400)(1,6401)(2,6404)(3,6409)(4,6416)(5,6425)(6,6436)(7,6449)(8,6464)(9,6481)
(10,6500)(11,6521)(12,6544)(13,6569)(14,6596)(15,6625)(16,6656)(17,6689)(18,6724)(19,6761)
(20,6800)};
\addplot coordinates {
(0,6500)(1,6501)(2,6504)(3,6509)(4,6516)(5,6525)(6,6536)(7,6549)(8,6564)(9,6581)
(10,6600)(11,6621)(12,6644)(13,6669)(14,6696)(15,6725)(16,6756)(17,6789)(18,6824)(19,6861)};
\addplot coordinates {
(0,6600)(1,6601)(2,6604)(3,6609)(4,6616)(5,6625)(6,6636)(7,6649)(8,6664)(9,6681)
(10,6700)(11,6721)(12,6744)(13,6769)(14,6796)(15,6825)(16,6856)(17,6889)(18,6924)};
\addplot coordinates {
(0,6700)(1,6701)(2,6704)(3,6709)(4,6716)(5,6725)(6,6736)(7,6749)(8,6764)(9,6781)
(10,6800)(11,6821)(12,6844)(13,6869)(14,6896)(15,6925)(16,6956)(17,6989)(18,7024)};
\addplot coordinates {
(0,6800)(1,6801)(2,6804)(3,6809)(4,6816)(5,6825)(6,6836)(7,6849)(8,6864)(9,6881)
(10,6900)(11,6921)(12,6944)(13,6969)(14,6996)(15,7025)(16,7056)(17,7089)};
\addplot coordinates {
(0,6900)(1,6901)(2,6904)(3,6909)(4,6916)(5,6925)(6,6936)(7,6949)(8,6964)(9,6981)
(10,7000)(11,7021)(12,7044)(13,7069)(14,7096)(15,7125)(16,7156)};
\addplot coordinates {
(0,7000)(1,7001)(2,7004)(3,7009)(4,7016)(5,7025)(6,7036)(7,7049)(8,7064)(9,7081)
(10,7100)(11,7121)(12,7144)(13,7169)(14,7196)(15,7225)(16,7256)};
\addplot coordinates {
(0,7100)(1,7101)(2,7104)(3,7109)(4,7116)(5,7125)(6,7136)(7,7149)(8,7164)(9,7181)
(10,7200)(11,7221)(12,7244)(13,7269)(14,7296)(15,7325)};
\addplot coordinates {
(0,7200)(1,7201)(2,7204)(3,7209)(4,7216)(5,7225)(6,7236)(7,7249)(8,7264)(9,7281)
(10,7300)(11,7321)(12,7344)(13,7369)(14,7396)(15,7425)};
\addplot coordinates {
(0,7300)(1,7301)(2,7304)(3,7309)(4,7316)(5,7325)(6,7336)(7,7349)(8,7364)(9,7381)
(10,7400)(11,7421)(12,7444)(13,7469)(14,7496)};
\addplot coordinates {
(0,7400)(1,7401)(2,7404)(3,7409)(4,7416)(5,7425)(6,7436)(7,7449)(8,7464)(9,7481)
(10,7500)(11,7521)(12,7544)(13,7569)};
\addplot coordinates {
(0,7500)(1,7501)(2,7504)(3,7509)(4,7516)(5,7525)(6,7536)(7,7549)(8,7564)(9,7581)
(10,7600)(11,7621)(12,7644)(13,7669)};
\addplot coordinates {
(0,7600)(1,7601)(2,7604)(3,7609)(4,7616)(5,7625)(6,7636)(7,7649)(8,7664)(9,7681)
(10,7700)(11,7721)(12,7744)};
\addplot coordinates {
(0,7700)(1,7701)(2,7704)(3,7709)(4,7716)(5,7725)(6,7736)(7,7749)(8,7764)(9,7781)
(10,7800)(11,7821)(12,7844)};
\addplot coordinates {
(0,7800)(1,7801)(2,7804)(3,7809)(4,7816)(5,7825)(6,7836)(7,7849)(8,7864)(9,7881)
(10,7900)(11,7921)};
\addplot coordinates {
(0,7900)(1,7901)(2,7904)(3,7909)(4,7916)(5,7925)(6,7936)(7,7949)(8,7964)(9,7981)
(10,8000)(11,8021)};
\addplot coordinates {
(0,8000)(1,8001)(2,8004)(3,8009)(4,8016)(5,8025)(6,8036)(7,8049)(8,8064)(9,8081)(10,8100)};
\addplot coordinates {
(0,8100)(1,8101)(2,8104)(3,8109)(4,8116)(5,8125)(6,8136)(7,8149)(8,8164)(9,8181)(10,8200)};
\addplot coordinates {
(0,8200)(1,8201)(2,8204)(3,8209)(4,8216)(5,8225)(6,8236)(7,8249)(8,8264)(9,8281)};
\addplot coordinates {
(0,8300)(1,8301)(2,8304)(3,8309)(4,8316)(5,8325)(6,8336)(7,8349)(8,8364)};
\addplot coordinates {
(0,8400)(1,8401)(2,8404)(3,8409)(4,8416)(5,8425)(6,8436)(7,8449)(8,8464)};
\addplot coordinates {
(0,8500)(1,8501)(2,8504)(3,8509)(4,8516)(5,8525)(6,8536)(7,8549)};
\addplot coordinates {
(0,8600)(1,8601)(2,8604)(3,8609)(4,8616)(5,8625)(6,8636)(7,8649)};
\addplot coordinates {
(0,8700)(1,8701)(2,8704)(3,8709)(4,8716)(5,8725)(6,8736)};
\addplot coordinates {
(0,8800)(1,8801)(2,8804)(3,8809)(4,8816)(5,8825)(6,8836)};
\addplot coordinates {
(0,8900)(1,8901)(2,8904)(3,8909)(4,8916)(5,8925)};
\addplot coordinates {
(0,9000)(1,9001)(2,9004)(3,9009)(4,9016)(5,9025)};
\addplot coordinates {
(0,9100)(1,9101)(2,9104)(3,9109)(4,9116)};
\addplot coordinates {
(0,9200)(1,9201)(2,9204)(3,9209)(4,9216)};
\addplot coordinates {
(0,9300)(1,9301)(2,9304)(3,9309)};
\addplot coordinates {
(0,9400)(1,9401)(2,9404)(3,9409)};
\addplot coordinates {
(0,9500)(1,9501)(2,9504)};
\addplot coordinates {
(0,9600)(1,9601)(2,9604)};
\addplot coordinates {
(0,9700)(1,9701)};
\addplot coordinates {
(0,9800)(1,9801)};
\addplot coordinates {
(0,9900)};
\addplot coordinates {
(0,10000)};
% zero reference line along the bottom
\addplot[mR, line width=0.9pt, dash pattern=on 1pt off 1pt, mark=none] coordinates {(0,0)(100,0)};
\end{axis}
\end{tikzpicture}
\end{document}
